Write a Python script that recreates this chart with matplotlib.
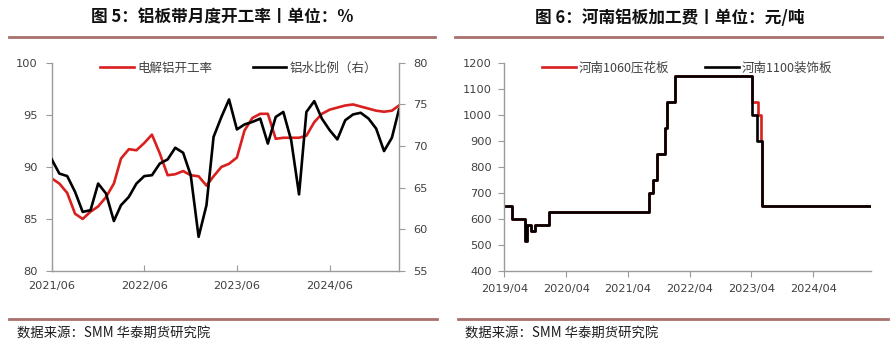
import matplotlib
matplotlib.use("Agg")
import matplotlib.pyplot as plt
import matplotlib.dates as mdates
import matplotlib.lines as mlines
import pandas as pd

plt.rcParams['font.family'] = ['Noto Sans CJK SC', 'DejaVu Sans']

# ---- chart 5: monthly operating rate (left) and molten-aluminium ratio (right)
months = pd.date_range('2021-06-01', periods=46, freq='MS')
run_rate = [88.9, 88.4, 87.5, 85.5, 85.0, 85.7, 86.2, 87.1, 88.4, 90.8,
            91.7, 91.6, 92.3, 93.1, 91.3, 89.2, 89.3, 89.6, 89.2, 89.1,
            88.2, 89.1, 90.0, 90.3, 90.9, 93.5, 94.7, 95.1, 95.1, 92.7,
            92.8, 92.8, 92.8, 93.0, 94.3, 95.1, 95.5, 95.7, 95.9, 96.0,
            95.8, 95.6, 95.4, 95.3, 95.4, 95.9]
molten_ratio = [68.4, 66.7, 66.4, 64.5, 62.1, 62.3, 65.5, 64.3, 61.0, 62.9,
                63.9, 65.5, 66.4, 66.5, 67.9, 68.4, 69.8, 69.2, 66.5, 59.1,
                62.9, 71.1, 73.5, 75.6, 72.0, 72.6, 72.9, 73.3, 70.3, 73.5,
                74.1, 70.7, 64.2, 74.1, 75.4, 73.3, 71.9, 70.8, 73.1, 73.8,
                74.0, 73.3, 72.1, 69.4, 71.0, 74.4]
left_ticks = ['2021-06-01', '2022-06-01', '2023-06-01', '2024-06-01']

# ---- chart 6: Henan sheet processing fee, step changes
emb_dates = ['2019-04-01', '2019-05-14', '2019-08-01', '2019-08-15', '2019-09-04',
             '2019-09-29', '2019-12-23', '2021-08-03', '2021-08-29', '2021-09-18',
             '2021-11-06', '2021-11-16', '2022-01-04', '2023-04-06', '2023-05-11',
             '2023-05-30', '2023-05-31', '2025-03-08']
emb_fee = [650, 600, 515, 575, 555, 575, 625, 700, 750, 850,
           950, 1050, 1150, 1050, 1000, 900, 650, 650]
dec_dates = ['2019-04-01', '2019-05-14', '2019-08-01', '2019-08-15', '2019-09-04',
             '2019-09-29', '2019-12-23', '2021-08-03', '2021-08-29', '2021-09-18',
             '2021-11-06', '2021-11-16', '2022-01-04', '2023-04-03', '2023-05-02',
             '2023-05-31', '2025-03-08']
dec_fee = [650, 600, 515, 575, 555, 575, 625, 700, 750, 850,
           950, 1050, 1150, 1000, 900, 650, 650]
right_ticks = ['2019-04-01', '2020-04-01', '2021-04-01', '2022-04-01',
               '2023-04-01', '2024-04-01']

RED = '#D9201F'
BLACK = '#000000'
SPINE = '#9A9A9A'
TICK_TXT = '#404040'
RULE = '#A8716E'

fig = plt.figure(figsize=(8.95, 3.47), dpi=100)

# titles and rules
fig.text(0.248, 0.949, '图 5：铝板带月度开工率丨单位：%', ha='center', va='center',
         fontsize=12, fontweight='bold', color='#111111')
fig.text(0.748, 0.949, '图 6：河南铝板加工费丨单位：元/吨', ha='center', va='center',
         fontsize=12, fontweight='bold', color='#111111')
for x0, x1 in [(9, 435), (455, 882)]:
    fig.add_artist(mlines.Line2D([x0 / 895, x1 / 895], [0.893, 0.893], color=RULE, lw=2))
for x0, x1 in [(9, 437), (458, 888)]:
    fig.add_artist(mlines.Line2D([x0 / 895, x1 / 895], [0.081, 0.081], color=RULE, lw=2))
fig.text(17 / 895, 0.040, '数据来源：SMM 华泰期货研究院', ha='left', va='center',
         fontsize=9.6, color='#1a1a1a')
fig.text(465 / 895, 0.040, '数据来源：SMM 华泰期货研究院', ha='left', va='center',
         fontsize=9.6, color='#1a1a1a')


def style_spines(ax, show):
    for name, sp in ax.spines.items():
        sp.set_visible(name in show)
        sp.set_color(SPINE)
        sp.set_linewidth(1.0)


# left chart
ax1 = fig.add_axes([0.0578, 0.219, 0.388, 0.600])
ax2 = ax1.twinx()
ax1.plot(months, run_rate, color=RED, lw=1.9, label='电解铝开工率')
ax2.plot(months, molten_ratio, color=BLACK, lw=1.9, label='铝水比例（右）')
ax1.set_ylim(80, 100)
ax1.set_yticks(range(80, 101, 5))
ax2.set_ylim(55, 80)
ax2.set_yticks(range(55, 81, 5))
ax1.set_xlim(months[0], months[-1])
ax1.set_xticks(pd.to_datetime(left_ticks))
ax1.xaxis.set_major_formatter(mdates.DateFormatter('%Y/%m'))
style_spines(ax1, ['left', 'bottom'])
style_spines(ax2, ['right'])
ax1.tick_params(axis='y', direction='out', length=4, color=SPINE, labelsize=8.2,
                labelcolor=TICK_TXT, pad=6, labelfontfamily='DejaVu Sans')
ax1.tick_params(axis='x', direction='in', length=4, color=SPINE, labelsize=8.2,
                labelcolor=TICK_TXT, pad=7, labelfontfamily='DejaVu Sans')
ax2.tick_params(axis='y', direction='out', length=4, color=SPINE, labelsize=8.2,
                labelcolor=TICK_TXT, pad=6, labelfontfamily='DejaVu Sans')
h1, l1 = ax1.get_legend_handles_labels()
h2, l2 = ax2.get_legend_handles_labels()
leg = ax2.legend(h1 + h2, l1 + l2, loc='center left', bbox_to_anchor=(0.139, 0.975),
                 ncol=2, frameon=False, fontsize=9, handlelength=2.7,
                 handletextpad=0.25, columnspacing=3.25, borderpad=0, borderaxespad=0)
for t in leg.get_texts():
    t.set_color('#404040')

# right chart
ax3 = fig.add_axes([0.5635, 0.219, 0.4097, 0.600])
ax3.plot(pd.to_datetime(emb_dates), emb_fee, color=RED, lw=1.9,
         drawstyle='steps-post', label='河南1060压花板')
ax3.plot(pd.to_datetime(dec_dates), dec_fee, color=BLACK, lw=1.9,
         drawstyle='steps-post', label='河南1100装饰板')
ax3.set_ylim(400, 1200)
ax3.set_yticks(range(400, 1201, 100))
ax3.set_xlim(pd.Timestamp('2019-04-01'), pd.Timestamp('2025-03-08'))
ax3.set_xticks(pd.to_datetime(right_ticks))
ax3.xaxis.set_major_formatter(mdates.DateFormatter('%Y/%m'))
style_spines(ax3, ['left', 'bottom'])
ax3.tick_params(axis='both', direction='out', length=4, color=SPINE, labelsize=8.2,
                labelcolor=TICK_TXT, pad=5, labelfontfamily='DejaVu Sans')
leg3 = ax3.legend(loc='center left', bbox_to_anchor=(0.103, 0.975), ncol=2,
                  frameon=False, fontsize=9, handlelength=2.7, handletextpad=0.25,
                  columnspacing=2.85, borderpad=0, borderaxespad=0)
for t in leg3.get_texts():
    t.set_color('#404040')

fig.savefig('out.png', dpi=100)
